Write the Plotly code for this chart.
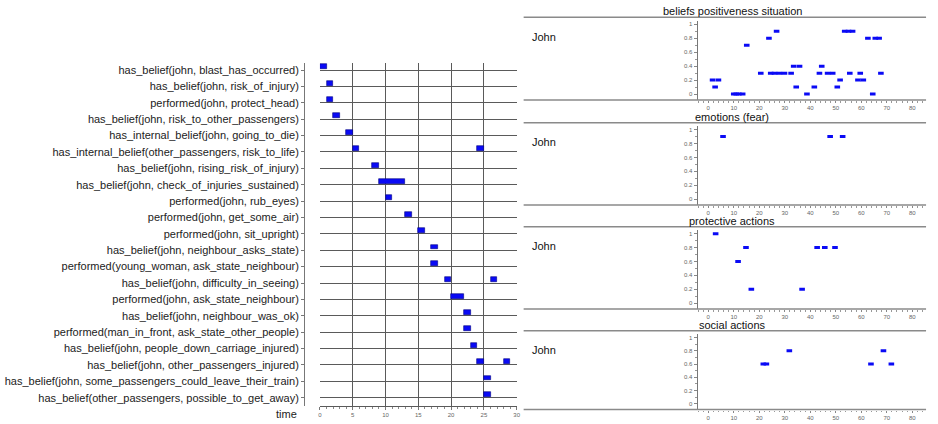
import plotly.graph_objects as go

W, H = 938, 424

events = [
    "has_belief(john, blast_has_occurred)",
    "has_belief(john, risk_of_injury)",
    "performed(john, protect_head)",
    "has_belief(john, risk_to_other_passengers)",
    "has_internal_belief(john, going_to_die)",
    "has_internal_belief(other_passengers, risk_to_life)",
    "has_belief(john, rising_risk_of_injury)",
    "has_belief(john, check_of_injuries_sustained)",
    "performed(john, rub_eyes)",
    "performed(john, get_some_air)",
    "performed(john, sit_upright)",
    "has_belief(john, neighbour_asks_state)",
    "performed(young_woman, ask_state_neighbour)",
    "has_belief(john, difficulty_in_seeing)",
    "performed(john, ask_state_neighbour)",
    "has_belief(john, neighbour_was_ok)",
    "performed(man_in_front, ask_state_other_people)",
    "has_belief(john, people_down_carriage_injured)",
    "has_belief(john, other_passengers_injured)",
    "has_belief(john, some_passengers_could_leave_their_train)",
    "has_belief(other_passengers, possible_to_get_away)",
]
bar_event = [0, 1, 2, 3, 4, 5, 5, 6, 7, 8, 9, 10, 11, 12, 13, 13, 14, 15, 16, 17, 18, 18, 19, 20]
bar_start = [0, 1, 1, 2, 4, 5, 24, 8, 9, 10, 13, 15, 17, 17, 19, 26, 20, 22, 22, 23, 24, 28, 25, 25]
bar_end = [1, 2, 2, 3, 5, 6, 25, 9, 13, 11, 14, 16, 18, 18, 20, 27, 22, 23, 23, 24, 25, 29, 26, 26]
time_ticks = [0, 5, 10, 15, 20, 25, 30]

panel_titles = ["beliefs positiveness situation", "emotions (fear)", "protective actions", "social actions"]
agent = "John"
belief_t = [1.7, 2.7, 4.0, 10, 11, 12, 13.5, 15.1, 20.6, 23.8, 24.5, 26, 26.8, 27.9, 29.9, 32.5, 33.5,
            34.5, 35.8, 38.7, 41.6, 43.6, 44.5, 46.8, 48.8, 50.6, 51.7, 53.5, 55, 55.5, 56.6, 58.7,
            59.6, 60.8, 62.6, 64.5, 65.5, 67, 67.7]
belief_v = [0.2, 0.1, 0.2, 0, 0, 0, 0, 0.7, 0.3, 0.8, 0.3, 0.3, 0.9, 0.3, 0.3, 0.3, 0.4, 0.1, 0.4, 0,
            0.1, 0.3, 0.4, 0.3, 0.3, 0.1, 0.2, 0.9, 0.9, 0.3, 0.9, 0.2, 0.3, 0.2, 0.8, 0, 0.8, 0.8, 0.3]
fear_t = [5.8, 47.8, 52.7]
fear_v = [0.9, 0.9, 0.9]
protect_t = [2.9, 11.7, 14.8, 16.9, 36.8, 42.7, 45.7, 49.7]
protect_v = [1, 0.6, 0.8, 0.2, 0.2, 0.8, 0.8, 0.8]
social_t = [21.6, 22.8, 31.8, 63.8, 68.7, 71.8]
social_v = [0.6, 0.6, 0.8, 0.6, 0.8, 0.6]


def px(x):
    return x / W


def py(y):
    return 1 - y / H


FONT = "Liberation Sans, Arial, sans-serif"
BLUE = "#0a0af5"
fig = go.Figure()

# ---------- left timeline ----------
fig.add_trace(go.Bar(
    orientation="h",
    y=bar_event,
    base=bar_start,
    x=[e - s for s, e in zip(bar_start, bar_end)],
    offset=-0.35, width=0.3,
    marker=dict(color=BLUE, line=dict(color="#000080", width=0.6)),
    xaxis="x", yaxis="y", showlegend=False, hoverinfo="skip",
))
n = len(events)
# invisible trace that carries the label axis
fig.add_trace(go.Scatter(x=[0] * n, y=list(range(n)), mode="markers", marker=dict(opacity=0),
                         xaxis="x", yaxis="y6", showlegend=False, hoverinfo="skip"))

yrange = [n - 1 + 0.49, -0.43]
fig.update_layout(
    xaxis=dict(domain=[px(320), px(518)], range=[0, 30], anchor="y",
               tickvals=time_ticks, showgrid=True, gridcolor="#5a5a5a", gridwidth=1,
               showline=True, linecolor="#5a5a5a", linewidth=1, ticks="outside", ticklen=3,
               tickcolor="#777", tickfont=dict(size=6, color="#666", family=FONT),
               minor=dict(dtick=1, ticks="outside", ticklen=2, tickcolor="#888"),
               zeroline=False, fixedrange=True),
    yaxis=dict(domain=[py(405.7), py(63)], range=yrange, anchor="x",
               tickvals=list(range(n)), showticklabels=False, showgrid=True,
               gridcolor="#5a5a5a", gridwidth=1, zeroline=False, showline=False, ticks=""),
    yaxis6=dict(domain=[py(405.7), py(63)], range=yrange, anchor="free", position=px(304),
                overlaying="y", tickvals=list(range(n)), ticktext=events, showgrid=False,
                showline=True, linecolor="#777", linewidth=1, ticks="outside", ticklen=3,
                tickcolor="#777", zeroline=False,
                tickfont=dict(size=11, color="#222", family=FONT)),
)

# ---------- right panels ----------
tops = [17.3, 122.7, 226.7, 330.7]
bots = [100, 205, 309, 409.5]
series = [(belief_t, belief_v), (fear_t, fear_v), (protect_t, protect_v), (social_t, social_v)]
shapes = []
annotations = []
for i, (ts, vs) in enumerate(series):
    k = i + 2
    fig.add_trace(go.Scatter(
        x=ts, y=vs, mode="markers", xaxis=f"x{k}", yaxis=f"y{k}", showlegend=False,
        marker=dict(symbol="line-ew", size=4, color=BLUE, line=dict(width=3, color=BLUE)),
        hoverinfo="skip",
    ))
    fig.update_layout(**{
        f"xaxis{k}": dict(domain=[px(700), px(930)], range=[-4.2, 85.4], anchor=f"y{k}",
                          dtick=10, tick0=0, showgrid=False, zeroline=False, showline=False,
                          ticks="outside", ticklen=2, tickcolor="#888",
                          tickfont=dict(size=6, color="#666", family=FONT),
                          minor=dict(dtick=2, ticks="outside", ticklen=1.5, tickcolor="#999")),
        f"yaxis{k}": dict(domain=[py(bots[i]), py(tops[i] + 3.5)], range=[-0.085, 1.05],
                          anchor=f"x{k}", tickvals=[0, 0.2, 0.4, 0.6, 0.8, 1],
                          ticktext=["0", "0.2", "0.4", "0.6", "0.8", "1"],
                          showgrid=False, zeroline=False, showline=True, linecolor="#777",
                          linewidth=1, ticks="outside", ticklen=3, tickcolor="#888",
                          tickfont=dict(size=6, color="#666", family=FONT),
                          minor=dict(dtick=0.1, ticks="outside", ticklen=2, tickcolor="#999")),
    })
    for yy in (tops[i], bots[i]):
        shapes.append(dict(type="line", xref="paper", yref="paper", x0=px(525), x1=px(930),
                           y0=py(yy), y1=py(yy), line=dict(color="#8a8a8a", width=1.5)))
    annotations.append(dict(text=panel_titles[i], xref="paper", yref="paper", x=px(735),
                            y=py(tops[i] - 6), xanchor="center", yanchor="middle", showarrow=False,
                            borderpad=0, font=dict(size=11, color="#111", family=FONT)))
    annotations.append(dict(text=agent, xref="paper", yref="paper", x=px(531),
                            y=py(tops[i] + 19.5), xanchor="left", yanchor="middle", showarrow=False,
                            font=dict(size=11, color="#111", family=FONT)))

annotations.append(dict(text="time", xref="paper", yref="paper", x=px(299), y=py(414),
                        xanchor="right", yanchor="middle", showarrow=False,
                        font=dict(size=11, color="#222", family=FONT)))

fig.update_layout(width=W, height=H, margin=dict(l=0, r=0, t=0, b=0),
                  paper_bgcolor="white", plot_bgcolor="white",
                  shapes=shapes, annotations=annotations, bargap=0)
fig.write_html("out.html", config={"displayModeBar": False},
               post_script="document.body.style.margin='0px';")
